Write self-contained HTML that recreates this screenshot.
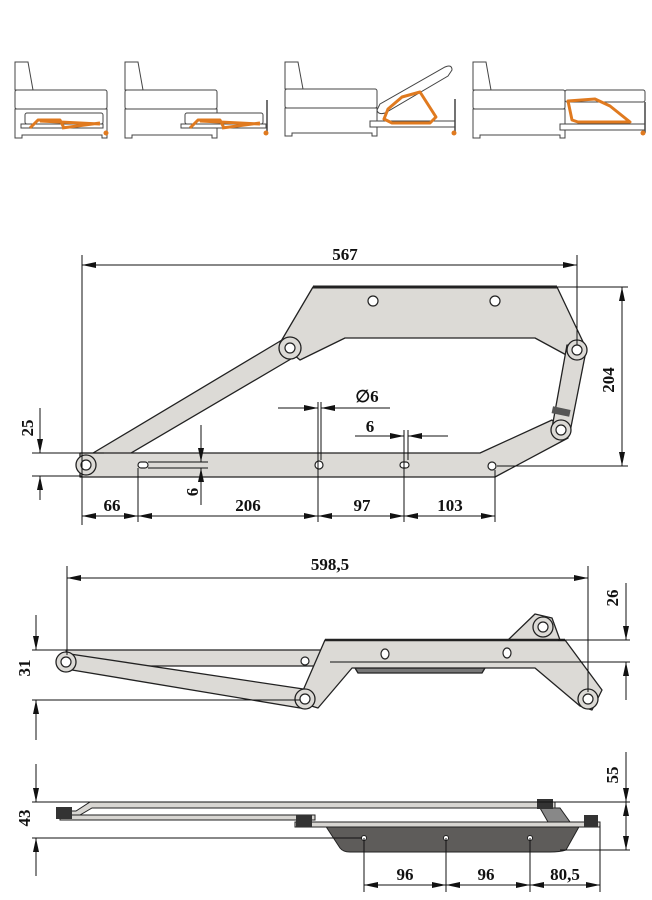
<!DOCTYPE html>
<html><head><meta charset="utf-8"><style>
html,body{margin:0;padding:0;background:#fff}
svg{display:block}
text{font-family:"Liberation Serif",serif;font-weight:bold;font-size:17px;fill:#111}
</style></head><body>
<svg width="652" height="900" viewBox="0 0 652 900" xmlns="http://www.w3.org/2000/svg">
<defs>
<marker id="a" viewBox="0 0 14 6" refX="14" refY="3" markerWidth="14" markerHeight="6" orient="auto-start-reverse" markerUnits="userSpaceOnUse"><path d="M0,0 L14,3 L0,6 Z" fill="#111"/></marker>
</defs>

<!-- sofa icons -->
<g fill="#fff" stroke="#444" stroke-width="1">
 <!-- sofa 1 -->
 <path d="M15,62 h13 l5,28 h-18 z"/>
 <rect x="15" y="90" width="92" height="19" rx="2"/>
 <path d="M15,109 h92 v29 h-5 v-3 h-80 v3 h-7 z"/>
 <rect x="25" y="113" width="78" height="11" rx="2"/>
 <rect x="21" y="124" width="82" height="4"/>
 <!-- sofa 2 -->
 <path d="M125,62 h13 l5,28 h-18 z"/>
 <rect x="125" y="90" width="92" height="19" rx="2"/>
 <path d="M125,109 h92 v29 h-5 v-3 h-80 v3 h-7 z"/>
 <rect x="185" y="113" width="78" height="11" rx="2"/>
 <rect x="181" y="124" width="85" height="4"/>
 <!-- sofa 3 -->
 <path d="M285,62 h13 l5,27 h-18 z"/>
 <rect x="285" y="89" width="92" height="19" rx="2"/>
 <path d="M285,108 h92 v28 h-5 v-3 h-80 v3 h-7 z"/>
 <rect x="370" y="121" width="85" height="6"/>
 <path d="M380,104 L445,67 Q452,64 452,70 L448,76 L385,113 Q378,115 377,110 Z"/>
 <!-- sofa 4 -->
 <path d="M473,62 h13 l5,28 h-18 z"/>
 <rect x="473" y="90" width="92" height="19" rx="2"/>
 <path d="M473,109 h92 v29 h-5 v-3 h-80 v3 h-7 z"/>
 <rect x="565" y="90" width="80" height="12" rx="2"/>
 <rect x="560" y="124" width="85" height="6"/>
</g>
<g stroke="#444" stroke-width="1.5" fill="none">
 <line x1="267" y1="100" x2="267" y2="133"/><line x1="455" y1="99" x2="455" y2="133"/><line x1="645" y1="102" x2="645" y2="133"/>
</g>
<g fill="none" stroke="#e07a1f" stroke-width="3" stroke-linejoin="round">
 <path d="M30,128 L38,120 L60,120 L64,128 M40,121 L100,124 M62,128 L100,123"/>
 <path d="M190,128 L198,120 L220,120 L224,128 M200,121 L260,124 M222,128 L260,123"/>
 <path d="M388,109 L402,97 L420,92 L436,117 L430,123 L392,123 L384,119 Z"/>
 <path d="M572,120 L568,101 L595,99 L610,106 L630,122 L578,122 Z"/>
</g>
<g fill="#e07a1f"><circle cx="106" cy="133" r="2.5"/><circle cx="266" cy="133" r="2.5"/><circle cx="454" cy="133" r="2.5"/><circle cx="643" cy="133" r="2.5"/></g>

<!-- DIAGRAM 1 -->
<g fill="#dcdad6" stroke="#222" stroke-width="1.3" stroke-linejoin="round">
 <path d="M78,462 L282,340 L296,356 L92,476 Z"/>
 <path d="M80,453 L480,453 L552,420 L568,438 L495,477 L80,477 Z"/>
 <path d="M313,287 L557,287 L585,346 L570,357 L535,338 L345,338 L300,360 L280,343 Z"/>
 <path d="M567,345 L586,351 L570,432 L552,428 Z"/>
 <circle cx="290" cy="348" r="11"/><circle cx="577" cy="350" r="10"/><circle cx="561" cy="430" r="10"/><circle cx="86" cy="465" r="10"/>
</g>
<line x1="313" y1="287" x2="557" y2="287" stroke="#222" stroke-width="3"/>
<rect x="552" y="408" width="18" height="7" fill="#555" transform="rotate(12 561 412)"/>
<g fill="#fff" stroke="#222" stroke-width="1.2">
 <circle cx="373" cy="301" r="5"/><circle cx="495" cy="301" r="5"/><circle cx="290" cy="348" r="5"/><circle cx="577" cy="350" r="5"/><circle cx="561" cy="430" r="5"/><circle cx="86" cy="465" r="5"/>
 <circle cx="319" cy="465" r="4"/><circle cx="492" cy="466" r="4"/>
 <rect x="138" y="462" width="10" height="6" rx="3"/><rect x="400" y="462" width="9" height="6" rx="3"/>
</g>
<g stroke="#111" stroke-width="1" fill="none">
 <line x1="82" y1="255" x2="82" y2="525"/><line x1="577" y1="255" x2="577" y2="345"/>
 <line x1="82" y1="265" x2="577" y2="265" marker-start="url(#a)" marker-end="url(#a)"/>
 <line x1="557" y1="287" x2="628" y2="287"/><line x1="497" y1="466" x2="628" y2="466"/>
 <line x1="622" y1="287" x2="622" y2="466" marker-start="url(#a)" marker-end="url(#a)"/>
 <line x1="32" y1="453" x2="104" y2="453"/><line x1="32" y1="476" x2="82" y2="476"/>
 <line x1="40" y1="408" x2="40" y2="453" marker-end="url(#a)"/><line x1="40" y1="476" x2="40" y2="500" marker-start="url(#a)"/>
 <line x1="148" y1="462" x2="208" y2="462"/><line x1="148" y1="468" x2="208" y2="468"/>
 <line x1="201" y1="425" x2="201" y2="462" marker-end="url(#a)"/><line x1="201" y1="468" x2="201" y2="505" marker-start="url(#a)"/>
 <line x1="138" y1="468" x2="138" y2="522"/><line x1="318" y1="402" x2="318" y2="522"/><line x1="321" y1="402" x2="321" y2="460"/>
 <line x1="404" y1="430" x2="404" y2="522"/><line x1="408" y1="430" x2="408" y2="460"/><line x1="495" y1="470" x2="495" y2="522"/>
 <line x1="278" y1="408" x2="318" y2="408" marker-end="url(#a)"/><line x1="321" y1="408" x2="390" y2="408" marker-start="url(#a)"/>
 <line x1="355" y1="436" x2="404" y2="436" marker-end="url(#a)"/><line x1="408" y1="436" x2="448" y2="436" marker-start="url(#a)"/>
 <line x1="82" y1="516" x2="138" y2="516" marker-start="url(#a)" marker-end="url(#a)"/>
 <line x1="138" y1="516" x2="318" y2="516" marker-start="url(#a)" marker-end="url(#a)"/>
 <line x1="318" y1="516" x2="404" y2="516" marker-start="url(#a)" marker-end="url(#a)"/>
 <line x1="404" y1="516" x2="495" y2="516" marker-start="url(#a)" marker-end="url(#a)"/>
</g>
<text x="345" y="260" text-anchor="middle">567</text>
<text x="112" y="511" text-anchor="middle">66</text>
<text x="248" y="511" text-anchor="middle">206</text>
<text x="362" y="511" text-anchor="middle">97</text>
<text x="450" y="511" text-anchor="middle">103</text>
<text x="367" y="402" text-anchor="middle">∅6</text>
<text x="370" y="432" text-anchor="middle">6</text>
<text transform="translate(614,380) rotate(-90)" text-anchor="middle">204</text>
<text transform="translate(33,428) rotate(-90)" text-anchor="middle">25</text>
<text transform="translate(198,492) rotate(-90)" text-anchor="middle">6</text>

<!-- DIAGRAM 2 -->
<g fill="#dcdad6" stroke="#222" stroke-width="1.3" stroke-linejoin="round">
 <path d="M355,668 L485,668 L482,673 L358,673 Z" fill="#777"/>
 <path d="M66,650 L325,650 L325,666 L70,666 Z"/>
 <path d="M60,668 L70,654 L310,690 L300,708 Z"/>
 <path d="M508,640 L535,614 L552,618 L560,640 Z"/>
 <path d="M325,640 L565,640 L602,690 L592,710 L580,706 L535,668 L352,668 L318,708 L298,702 Z"/>
 <circle cx="66" cy="662" r="10"/><circle cx="305" cy="699" r="10"/><circle cx="588" cy="699" r="10"/><circle cx="543" cy="627" r="10"/>
</g>
<line x1="325" y1="640" x2="565" y2="640" stroke="#222" stroke-width="2.5"/>
<g fill="#fff" stroke="#222" stroke-width="1.2">
 <circle cx="66" cy="662" r="5"/><circle cx="305" cy="699" r="5"/><circle cx="588" cy="699" r="5"/><circle cx="543" cy="627" r="5"/>
 <circle cx="305" cy="661" r="4"/><ellipse cx="385" cy="654" rx="4" ry="5"/><ellipse cx="507" cy="653" rx="4" ry="5"/>
</g>
<g stroke="#111" stroke-width="1" fill="none">
 <line x1="67" y1="566" x2="67" y2="655"/><line x1="588" y1="566" x2="588" y2="692"/>
 <line x1="67" y1="578" x2="588" y2="578" marker-start="url(#a)" marker-end="url(#a)"/>
 <line x1="558" y1="640" x2="630" y2="640"/><line x1="330" y1="662" x2="630" y2="662"/>
 <line x1="626" y1="583" x2="626" y2="640" marker-end="url(#a)"/><line x1="626" y1="662" x2="626" y2="700" marker-start="url(#a)"/>
 <line x1="32" y1="650" x2="66" y2="650"/><line x1="32" y1="700" x2="300" y2="700"/>
 <line x1="36" y1="615" x2="36" y2="650" marker-end="url(#a)"/><line x1="36" y1="700" x2="36" y2="740" marker-start="url(#a)"/>
</g>
<text x="330" y="570" text-anchor="middle">598,5</text>
<text transform="translate(618,598) rotate(-90)" text-anchor="middle">26</text>
<text transform="translate(30,668) rotate(-90)" text-anchor="middle">31</text>

<!-- DIAGRAM 3 -->
<path d="M325,825 L580,825 L566,850 Q560,852 550,852 L350,852 Q343,852 340,848 Z" fill="#5e5c5a" stroke="#222"/>
<g fill="#d8d6d2" stroke="#222" stroke-width="1">
 <path d="M90,802 L555,802 L555,808 L92,808 L80,815 L60,815 L60,811 L76,811 Z"/>
 <rect x="60" y="815" width="255" height="5"/>
 <rect x="295" y="822" width="305" height="5"/>
 <path d="M540,808 L560,808 L570,822 L548,822 Z" fill="#888"/>
</g>
<g fill="#333"><rect x="56" y="807" width="16" height="12"/><rect x="296" y="815" width="16" height="12"/><rect x="537" y="799" width="16" height="10"/><rect x="584" y="815" width="14" height="12"/></g>
<g fill="#fff" stroke="#222"><circle cx="364" cy="838" r="2.5"/><circle cx="446" cy="838" r="2.5"/><circle cx="530" cy="838" r="2.5"/></g>
<g stroke="#111" stroke-width="1" fill="none">
 <line x1="32" y1="802" x2="630" y2="802"/><line x1="32" y1="838" x2="362" y2="838"/><line x1="560" y1="850" x2="630" y2="850"/>
 <line x1="36" y1="764" x2="36" y2="802" marker-end="url(#a)"/><line x1="36" y1="838" x2="36" y2="876" marker-start="url(#a)"/>
 <line x1="626" y1="752" x2="626" y2="802" marker-end="url(#a)"/><line x1="626" y1="850" x2="626" y2="850"/>
 <line x1="626" y1="802" x2="626" y2="850" marker-start="url(#a)" marker-end="url(#a)"/>
 <line x1="364" y1="838" x2="364" y2="892"/><line x1="446" y1="838" x2="446" y2="892"/><line x1="530" y1="838" x2="530" y2="892"/><line x1="600" y1="825" x2="600" y2="892"/>
 <line x1="364" y1="885" x2="446" y2="885" marker-start="url(#a)" marker-end="url(#a)"/>
 <line x1="446" y1="885" x2="530" y2="885" marker-start="url(#a)" marker-end="url(#a)"/>
 <line x1="530" y1="885" x2="600" y2="885" marker-start="url(#a)" marker-end="url(#a)"/>
</g>
<text x="405" y="880" text-anchor="middle">96</text>
<text x="486" y="880" text-anchor="middle">96</text>
<text x="565" y="880" text-anchor="middle">80,5</text>
<text transform="translate(618,775) rotate(-90)" text-anchor="middle">55</text>
<text transform="translate(30,818) rotate(-90)" text-anchor="middle">43</text>
</svg>
</body></html>
